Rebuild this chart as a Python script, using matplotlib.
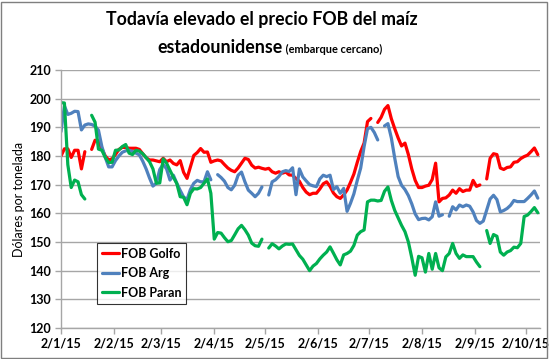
import numpy as np
import pandas as pd
import matplotlib
matplotlib.use("Agg")
import matplotlib.pyplot as plt
import matplotlib.dates as mdates
from matplotlib.ticker import FuncFormatter
from matplotlib.patches import Rectangle

N = np.nan

# 2-day sampling grid starting 2 Jan 2015
dates = pd.date_range("2015-01-02", periods=141, freq="2D")

golfo = [180, 182.5, 182.5, 179.5, 182, 182, 175.5, 181.5, N, 182.3,
         185.5, 185.2, 182.5, 180, 178.6, 179, 180.5, 182.3, 183, 183,
         182.7, 182.7, 182.7, 182.3, 180.8, 179.4, 178.6, 178.6, 178.3, 178,
         179.2, 178, 178.6, 177.4, 176.9, 178.4, 174.3, 172.2, 176.2, 180.2,
         181.2, 182.6, 181.3, 181.4, 177.8, 178.3, 178.6, 178.3, 177, 175.8,
         175, 174.5, 175.8, 177.5, 179.2, 178.8, 176.8, 175.8, 176.1, 175.7,
         175.4, 175.7, 174.5, 174, 174.5, 174, 174.4, 173.4, 173.3, 172.1,
         171.2, 169, 167.4, 166.5, 167, 167, 168.5, 170.3, 171, 169.4,
         167.1, 165.8, 165.2, 166.4, 168.1, 170.8, 173.7, 177.8, 181.6, 184.5,
         192, 193.1, N, 191.7, 193.5, 196.3, 197.6, 193, 189.5, 186.3,
         183.5, 184.5, 180.5, 175.5, 171.5, 169, 169, 169.5, 169.8, 171.8,
         177.5, 164, 165.2, 165.4, 166.4, 168.1, 167, 168.6, 167.6, 168.1,
         168.1, 171.5, 169.4, 169.9, N, 172, 179.2, 180.8, 180.5, 175.8,
         175.3, 176, 176.2, 177.8, 178, 179.1, 179.8, 180.3, 181.5, 182.8,
         180.5]

arg = [188.5, 197.5, 194.5, 194.9, 195.6, 195.5, 189.1, 190.8, 191.2, 191,
       190.4, 189, 183.3, 179.5, 176.2, 176.2, 178.4, 180, 181.3, 181.8,
       182, 181.6, 181, 180.4, 178.2, 175.5, 172.3, 169.5, 170.5, 175.3,
       177.1, 175.5, 171.6, 173.3, 170.5, 168, 165.7, 164.8, 168.3, 170.5,
       171.5, 171, 171, 174.5, 171.7, N, 173.5, 172.5, 171.2, 169,
       168.2, 169.8, 173.3, 174.4, 171, 168.1, 167, 165.8, 167, 169.2,
       N, 166.4, 171, 171.7, 172.9, 174.5, 174.9, 174.6, 175.9, 166.5,
       175.5, 172.7, 171.3, 170, 169.6, 169.3, 172, 173.3, 172.8, 173.3,
       168.3, 169.3, 167, 168.7, 160.7, 163.5, 166.8, 171.5, 175.8, 183.3,
       189.5, 190, 188.2, 185.6, N, 190.5, 191.3, 186.3, 179.2, 172.8,
       169.8, 168.3, 166.2, 163.3, 159.8, 157.8, 158.2, 158.3, 157.7, 158.8,
       164, 159, 159.5, N, 159, 162.3, 161.2, 162.9, 162.3, 162.9,
       162.5, 160.5, 157.5, 156.5, 157.3, 161.2, 165, 166.3, 164.8, 160.5,
       161, 161.7, 162.8, 164.5, 164.1, 164.1, 164.1, 165.2, 166.4, 167.8,
       165.3]

paran = [198.6, 198.5, 177, 169, 171.6, 171, 166.5, 165, N, 194.2,
         191.8, 182.4, 182, 179.5, 177.7, 177.8, 182, 182.1, 183.3, 184,
         181, 180.5, 182, 181.7, 180.8, 179.4, 178, 175.5, 170.5, 170.6,
         179, 177.5, 175, 172.6, 170.4, 165.8, 165.6, 163, 167, 168.6,
         168.5, 169, 170.5, 172, 167, 151, 153.3, 153.1, 151.5, 150.1,
         150.5, 152.5, 154.6, 155.8, 154.3, 152.4, 149.6, 148.7, 148.5, 151,
         N, 147.9, 149.4, 148.6, 147.6, 148.6, 149.3, 149.2, 149.3, 147.3,
         145.3, 144, 142, 140, 141.6, 142.5, 144.1, 145.4, 146.5, 148.3,
         146.1, 143.8, 142, 145.5, 146, 146.8, 148.8, 152.4, 153.6, 154.2,
         164, 164.6, 164.6, 164.3, 164.5, 167.7, 169.2, 164.5, 161, 158.4,
         155.8, 153.6, 150, 144.5, 138.4, 145, 144.5, 139.5, 146, 140.5,
         146, 141, 140, 144.8, 146, 149.5, 146, 144.3, 145.5, 144.9,
         144.9, 144.9, 143, 141.4, N, 154, 149.5, 152.6, 152, 146.5,
         145.4, 146.5, 147, 148.2, 148, 149.5, 158.9, 159.4, 160.6, 162,
         160.2]

series_names = ["FOB Golfo", "FOB Arg", "FOB Paran"]
series_colors = ["#FF0000", "#4F81BD", "#00B050"]
tick_dates = pd.date_range("2015-01-01", "2015-10-01", freq="MS") + pd.Timedelta(days=1)
y_ticks = list(range(120, 211, 10))

FONT = ["Lato", "DejaVu Sans"]
plt.rcParams["font.family"] = FONT

W, H = 549, 359
fig = plt.figure(figsize=(W / 100, H / 100), dpi=100)
ax = fig.add_axes([61 / W, 31 / H, (540 - 61) / W, (328 - 70) / H])

for name, vals, col in zip(series_names, [golfo, arg, paran], series_colors):
    ax.plot(dates, np.array(vals, dtype=float), color=col, lw=2.3,
            label=name, solid_capstyle="round", solid_joinstyle="round")

ax.set_ylim(120, 210)
ax.set_yticks(y_ticks)
x0 = pd.Timestamp("2015-01-02")
ax.set_xlim(x0, x0 + pd.Timedelta(days=281.3))
ax.set_xticks(tick_dates)
ax.xaxis.set_major_formatter(FuncFormatter(
    lambda v, p: (lambda d: f"{d.day}/{d.month}/{d.year % 100}")(mdates.num2date(v))))

grid_col = "#A6A6A6"
ax.grid(axis="y", color=grid_col, lw=1.0)
ax.set_axisbelow(True)
for s in ["top", "right"]:
    ax.spines[s].set_visible(False)
for s in ["left", "bottom"]:
    ax.spines[s].set_color(grid_col)
    ax.spines[s].set_linewidth(1.0)
ax.tick_params(axis="both", direction="out", length=4, color=grid_col, width=1.0,
               labelsize=9, pad=3)
for lab in ax.get_xticklabels() + ax.get_yticklabels():
    lab.set_fontweight("bold")

ax.set_ylabel("Dólares por tonelada", fontsize=9, labelpad=3)

leg = ax.legend(loc="upper left", bbox_to_anchor=(0.075, 0.33), frameon=True,
                fancybox=False, edgecolor="black", handlelength=1.4,
                handletextpad=0.1, labelspacing=0.6, borderpad=0.4,
                borderaxespad=0.0, prop={"weight": "bold", "size": 9})
leg.get_frame().set_linewidth(0.8)

fig.canvas.draw()
r = fig.canvas.get_renderer()

tt = fig.text(262 / W, 1 - 20 / H, "Todavía elevado el precio FOB del maíz",
              ha="center", va="center", fontsize=14, fontweight="bold")
w = tt.get_window_extent(r).width
fs = 14 * 312 / w
tt.set_fontsize(fs)

yb = 1 - 53 / H
t1 = fig.text(0, yb, "estadounidense", ha="left", va="baseline",
              fontsize=fs, fontweight="bold")
t2 = fig.text(0, yb, " (embarque cercano)", ha="left", va="baseline",
              fontsize=fs * 0.62, fontweight="bold")
w1 = t1.get_window_extent(r).width
w2 = t2.get_window_extent(r).width
start = 270 - (w1 + w2) / 2
t1.set_x(start / W)
t2.set_x((start + w1) / W)

fig.patches.append(Rectangle((1 / W, 1 / H), (W - 3) / W, (H - 3) / H,
                             transform=fig.transFigure, fill=False,
                             edgecolor="#7F7F7F", lw=1.0))

fig.savefig("out.png", dpi=100)
